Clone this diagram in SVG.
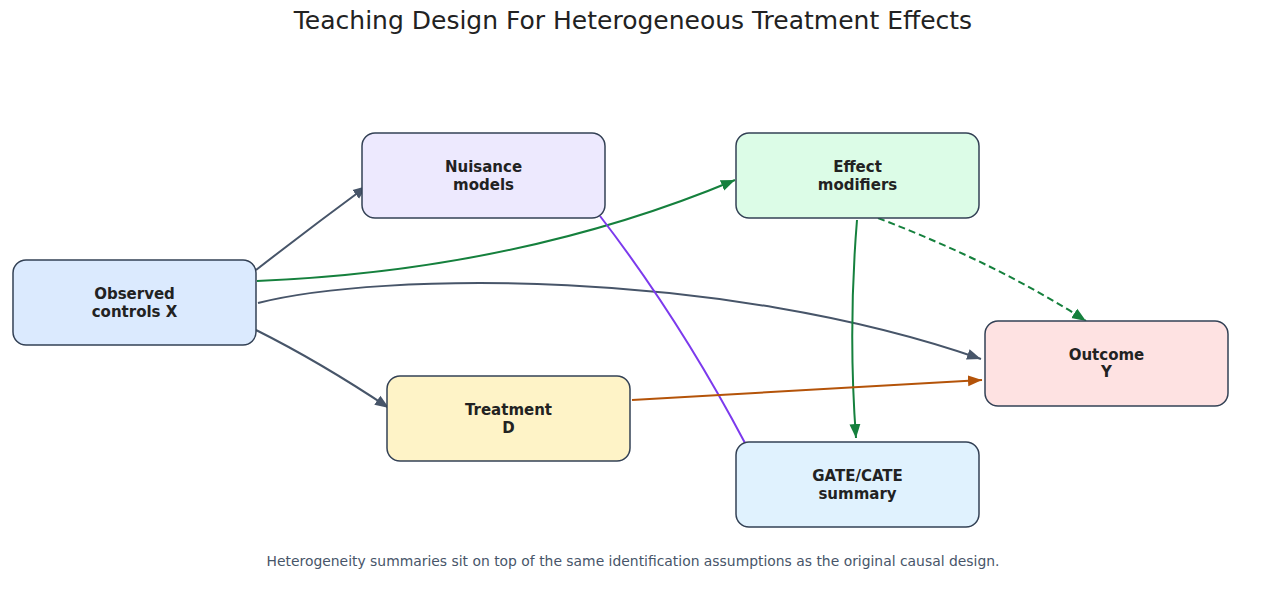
<svg xmlns="http://www.w3.org/2000/svg" width="1266" height="616" viewBox="0 0 1266 616">
<style>
.box{stroke:#334155;stroke-width:1.5}
.lbl{font-family:"DejaVu Sans",sans-serif;font-weight:bold;font-size:15px;fill:#222;text-anchor:middle}
.e{fill:none;stroke-width:2}
</style>
<defs>
<marker id="aG" markerUnits="userSpaceOnUse" markerWidth="15" markerHeight="12" refX="14" refY="6" orient="auto"><path d="M0,0.5 L14,6 L0,11.5 z" fill="#475569"/></marker>
<marker id="aGr" markerUnits="userSpaceOnUse" markerWidth="15" markerHeight="12" refX="14" refY="6" orient="auto"><path d="M0,0.5 L14,6 L0,11.5 z" fill="#15803d"/></marker>
<marker id="aO" markerUnits="userSpaceOnUse" markerWidth="15" markerHeight="12" refX="14" refY="6" orient="auto"><path d="M0,0.5 L14,6 L0,11.5 z" fill="#b45309"/></marker>
</defs>
<rect width="1266" height="616" fill="#fff"/>
<text x="633" y="29" font-family="DejaVu Sans,sans-serif" font-size="25" fill="#222" text-anchor="middle">Teaching Design For Heterogeneous Treatment Effects</text>
<g id="edges">
<path class="e" d="M256,270 Q310,228 367,186" stroke="#475569" marker-end="url(#aG)"/>
<path class="e" d="M257,281 Q520,270 735,180" stroke="#15803d" marker-end="url(#aGr)"/>
<path class="e" d="M258,303 C380,272 720,268 981,359" stroke="#475569" marker-end="url(#aG)"/>
<path class="e" d="M256,330 Q320,362 389,408" stroke="#475569" marker-end="url(#aG)"/>
<path class="e" d="M600,216 Q680,320 745,443" stroke="#7c3aed"/>
<path class="e" d="M857,220 Q848,330 856,438" stroke="#15803d" marker-end="url(#aGr)"/>
<path class="e" d="M878,218 Q1000,265 1086,321" stroke="#15803d" stroke-dasharray="7,4" marker-end="url(#aGr)"/>
<path class="e" d="M632,400 L982,380" stroke="#b45309" marker-end="url(#aO)"/>
</g>
<g id="n_x"><rect class="box" x="13" y="260" width="243" height="85" rx="13" fill="#dbeafe"/><text class="lbl" x="134.5" y="298.5">Observed</text><text class="lbl" x="134.5" y="316.5">controls X</text></g>
<g id="n_nuis"><rect class="box" x="362" y="133" width="243" height="85" rx="13" fill="#ede9fe"/><text class="lbl" x="483.5" y="171.5">Nuisance</text><text class="lbl" x="483.5" y="189.5">models</text></g>
<g id="n_eff"><rect class="box" x="736" y="133" width="243" height="85" rx="13" fill="#dcfce7"/><text class="lbl" x="857.5" y="171.5">Effect</text><text class="lbl" x="857.5" y="189.5">modifiers</text></g>
<g id="n_y"><rect class="box" x="985" y="321" width="243" height="85" rx="13" fill="#fee2e2"/><text class="lbl" x="1106.5" y="359.5">Outcome</text><text class="lbl" x="1106.5" y="376.5">Y</text></g>
<g id="n_d"><rect class="box" x="387" y="376" width="243" height="85" rx="13" fill="#fef3c7"/><text class="lbl" x="508.5" y="414.5">Treatment</text><text class="lbl" x="508.5" y="432.5">D</text></g>
<g id="n_gate"><rect class="box" x="736" y="442" width="243" height="85" rx="13" fill="#e0f2fe"/><text class="lbl" x="857.5" y="480.5">GATE/CATE</text><text class="lbl" x="857.5" y="498.5">summary</text></g>
<text x="633" y="566" font-family="DejaVu Sans,sans-serif" font-size="13.9" fill="#475569" text-anchor="middle">Heterogeneity summaries sit on top of the same identification assumptions as the original causal design.</text>
</svg>
